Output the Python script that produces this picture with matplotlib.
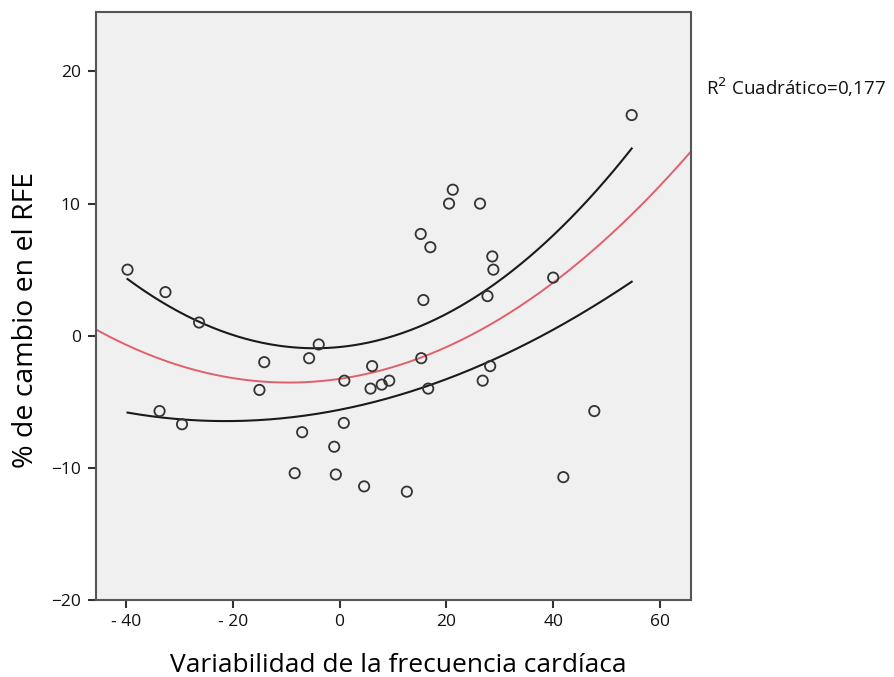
import numpy as np
import matplotlib
matplotlib.use("Agg")
import matplotlib.pyplot as plt

plt.rcParams['font.family'] = ['Open Sans', 'DejaVu Sans']

# heart rate variability change vs % change in RFE
hrv = [-39.7, -32.6, -26.3, -33.7, -29.5, -14.1, -15.0, -3.9, -5.7, -8.4,
       -7.0, -1.0, -0.7, 0.9, 0.8, 4.6, 6.1, 5.8, 7.9, 9.3,
       12.6, 15.2, 17.0, 15.7, 15.3, 16.6, 20.5, 21.2, 26.3, 28.6,
       28.8, 27.7, 28.2, 26.8, 40.0, 47.7, 41.9, 54.7]
rfe = [5.0, 3.3, 1.0, -5.7, -6.7, -2.0, -4.1, -0.66, -1.7, -10.4,
       -7.3, -8.4, -10.5, -3.4, -6.6, -11.4, -2.3, -4.0, -3.7, -3.4,
       -11.8, 7.7, 6.7, 2.7, -1.7, -4.0, 10.0, 11.05, 10.0, 6.0,
       5.0, 3.0, -2.3, -3.4, 4.4, -5.7, -10.7, 16.7]

# confidence band limits around the quadratic fit
band_up_x = [-39.9, -33.0, -26.4, -16.8, -4.4, 7.5, 20.6, 29.9, 38.6, 48.0, 54.7]
band_up_y = [4.3, 2.5, 1.1, -0.2, -1.0, -0.45, 1.8, 4.2, 7.1, 11.0, 14.1]
band_lo_x = [-39.9, -29.6, -16.8, -5.6, 5.0, 17.4, 29.9, 38.6, 48.0, 54.7]
band_lo_y = [-5.7, -6.45, -6.5, -6.05, -4.95, -3.6, -1.6, 0.0, 2.2, 4.25]

xticks = [-40, -20, 0, 20, 40, 60]
xtick_labels = ['- 40', '- 20', '0', '20', '40', '60']
yticks = [-20, -10, 0, 10, 20]

x = np.array(hrv)
y = np.array(rfe)

# quadratic fit line over the full x range
coef = np.polyfit(x, y, 2)
xlim = (-45.6, 65.8)
xf = np.linspace(xlim[0], xlim[1], 300)

# smooth curves through the band limits, over the data range
xb = np.linspace(min(hrv), max(hrv), 300)
up = np.polyval(np.polyfit(band_up_x, band_up_y, 3), xb)
lo = np.polyval(np.polyfit(band_lo_x, band_lo_y, 3), xb)

fig = plt.figure(figsize=(8.94, 6.77), dpi=100)
ax = fig.add_axes([0.1074, 0.1137, 0.6655, 0.8686])
ax.set_facecolor('#f0f0f0')

ax.plot(xf, np.polyval(coef, xf), color='#e0606a', lw=1.4, zorder=2)
ax.plot(xb, up, color='#1a1a1a', lw=1.5, zorder=2)
ax.plot(xb, lo, color='#1a1a1a', lw=1.5, zorder=2)
ax.scatter(x, y, s=55, facecolors='none', edgecolors='#333333', linewidths=1.3, zorder=3)

ax.set_xlim(*xlim)
ax.set_ylim(-20, 24.5)
ax.set_xticks(xticks)
ax.set_xticklabels(xtick_labels)
ax.set_yticks(yticks)
ax.tick_params(axis='both', direction='out', length=6, width=1.5, color='#333333',
               labelsize=12.5, labelcolor='#111111')
ax.tick_params(axis='x', pad=4)
ax.tick_params(axis='y', pad=5)
for sp in ax.spines.values():
    sp.set_color('#555555')
    sp.set_linewidth(1.5)

ax.set_xlabel('Variabilidad de la frecuencia cardíaca', fontsize=19)
ax.xaxis.set_label_coords(0.508, -0.09)
ax.set_ylabel('% de cambio en el RFE', fontsize=20.5)
ax.yaxis.set_label_coords(-0.094, 0.476)

fig.text(0.79, 0.871, 'R$^2$ Cuadrático=0,177', fontsize=13.5, color='#111111', va='center')

fig.savefig('out.png', dpi=100)
